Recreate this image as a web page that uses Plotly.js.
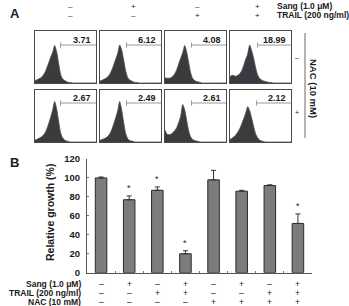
<!DOCTYPE html>
<html>
<head>
<meta charset="utf-8">
<script src="https://cdn.plot.ly/plotly-3.0.1.min.js"></script>
<style>
  html, body { margin: 0; padding: 0; background: #fff; }
  #fig { width: 349px; height: 306px; }
</style>
</head>
<body>
<div id="fig"></div>
<script>
// ---- Panel A: flow cytometry histograms (fluorescence channel bins) ----
const channels = [0,1,2,3,4,5,6,7,8,9,10,11,12,13,14,15,16,17,18,19,20,21,22,23,24,25,26,27,28,29,30,31];

const histNoNacCtrl   = [5,6,8,10,14,20,29,39,50,59,72,60,38,17,8,5,3,1,1,0,0,0,0,0,0,0,0,0,0,0,0,0];
const histNoNacSang   = [4,5,7,9,12,17,25,35,46,57,73,64,45,24,11,6,4,2,1,1,0,0,0,0,0,0,0,0,0,0,0,0];
const histNoNacTrail  = [10,9,9,10,13,18,26,37,48,58,72,60,40,20,9,5,3,2,1,0,0,0,0,0,0,0,0,0,0,0,0,0];
const histNoNacCombo  = [12,15,14,13,15,18,24,34,46,56,73,62,48,30,16,9,6,4,3,2,1,1,0,0,0,0,0,0,0,0,0,0];
const histNacCtrl     = [4,5,7,9,12,17,25,36,48,62,78,64,40,18,8,4,2,1,0,0,0,0,0,0,0,0,0,0,0,0,0,0];
const histNacSang     = [3,5,6,8,11,16,24,35,47,60,78,62,38,17,7,3,2,1,0,0,0,0,0,0,0,0,0,0,0,0,0,0];
const histNacTrail    = [23,15,14,15,18,22,28,38,50,72,62,42,22,10,5,3,2,1,0,0,0,0,0,0,0,0,0,0,0,0,0,0];
const histNacCombo    = [5,7,10,14,19,26,35,45,56,68,60,46,30,16,8,4,2,1,0,0,0,0,0,0,0,0,0,0,0,0,0,0];

const histograms = [histNoNacCtrl, histNoNacSang, histNoNacTrail, histNoNacCombo,
                    histNacCtrl, histNacSang, histNacTrail, histNacCombo];
const gatePercent = ['3.71','6.12','4.08','18.99','2.67','2.49','2.61','2.12'];
const gateStart = [13, 13.5, 13.5, 14, 13, 13.5, 13.5, 13.5];
const gateLevel = [73, 73, 73, 73, 75, 75, 75, 75];

const sangA  = ['\u2013','+','\u2013','+'];
const trailA = ['\u2013','\u2013','+','+'];
const nacA   = ['\u2013','+'];

// ---- Panel B: relative growth ----
const growth    = [100, 77, 87, 20, 98, 86, 92, 52];
const growthErr = [1, 4, 3.5, 3.2, 10, 1, 0.8, 10];
const significant = [false, true, true, true, false, false, false, true];
const yTicks = [0, 20, 40, 60, 80, 100, 120];
const sangB  = ['\u2013','+','\u2013','+','\u2013','+','\u2013','+'];
const trailB = ['\u2013','\u2013','+','+','\u2013','\u2013','+','+'];
const nacB   = ['\u2013','\u2013','\u2013','\u2013','+','+','+','+'];
const rowLabels = ['Sang (1.0 \u03bcM)', 'TRAIL (200 ng/ml)', 'NAC (10 mM)'];

// ---- helpers: pixel position -> paper fraction ----
const W = 349, H = 306;
const px = x => x / W;
const py = y => 1 - y / H;
const FONT = 'Arial, "Liberation Sans", sans-serif';
const ink = '#1a1a1a';

const traces = [];
const layout = {
  width: W, height: H,
  margin: {l: 0, r: 0, t: 0, b: 0, pad: 0},
  paper_bgcolor: '#fff', plot_bgcolor: '#fff',
  showlegend: false,
  font: {family: FONT, color: ink},
  annotations: [],
  shapes: []
};

// histogram boxes (left/right px) and rows (top/bottom px)
const colsPx = [[35, 96], [100, 161], [165, 226], [230, 291]];
const rowsPx = [[31, 83], [90, 142]];

histograms.forEach((counts, k) => {
  const r = Math.floor(k / 4), c = k % 4;
  const n = k + 2;
  const xa = 'x' + n, ya = 'y' + n;
  const boxAxis = {
    showline: true, mirror: true, linecolor: '#4a4a4a', linewidth: 1,
    showgrid: false, zeroline: false, showticklabels: false, ticks: '',
    fixedrange: true
  };
  layout['xaxis' + n] = Object.assign({}, boxAxis, {
    domain: [px(colsPx[c][0]), px(colsPx[c][1])],
    range: [0, channels[channels.length - 1]], anchor: ya
  });
  layout['yaxis' + n] = Object.assign({}, boxAxis, {
    domain: [py(rowsPx[r][1]), py(rowsPx[r][0])],
    range: [0, 100], anchor: xa
  });
  traces.push({
    type: 'scatter', mode: 'lines', x: channels, y: counts,
    xaxis: xa, yaxis: ya, fill: 'tozeroy',
    fillcolor: k === 3 ? '#3a3a44' : '#3b3b3b',
    line: {color: '#4c4c4c', width: 0.8, shape: 'spline', smoothing: 0.6}, hoverinfo: 'skip'
  });
  // gate marker
  const g = gateStart[k], lv = gateLevel[k], xEnd = channels[channels.length - 1];
  traces.push({
    type: 'scatter', mode: 'lines',
    x: [g, g, null, g, xEnd], y: [lv + 5, lv - 5, null, lv, lv],
    xaxis: xa, yaxis: ya, line: {color: '#9a9a9a', width: 1}, hoverinfo: 'skip'
  });
  layout.annotations.push({
    xref: xa, yref: ya, x: xEnd - 1.5, y: lv + 9, xanchor: 'right', yanchor: 'middle',
    text: '<b>' + gatePercent[k] + '</b>', showarrow: false,
    font: {size: 9, family: FONT, color: ink}
  });
});

// panel A header
const headerX = [70, 133, 197, 257];
headerX.forEach((x, i) => {
  layout.annotations.push({xref: 'paper', yref: 'paper', x: px(x), y: py(6.5), text: sangA[i],
    showarrow: false, xanchor: 'center', yanchor: 'middle', font: {size: 8, color: ink}});
  layout.annotations.push({xref: 'paper', yref: 'paper', x: px(x), y: py(15), text: trailA[i],
    showarrow: false, xanchor: 'center', yanchor: 'middle', font: {size: 8, color: ink}});
});
layout.annotations.push({xref: 'paper', yref: 'paper', x: px(275), y: py(5.5), text: '<b>' + rowLabels[0] + '</b>',
  showarrow: false, xanchor: 'left', yanchor: 'middle', font: {size: 8.5, color: ink}});
layout.annotations.push({xref: 'paper', yref: 'paper', x: px(275), y: py(14.5), text: '<b>' + rowLabels[1] + '</b>',
  showarrow: false, xanchor: 'left', yanchor: 'middle', font: {size: 8.5, color: ink}});

// NAC bracket on the right of panel A
layout.shapes.push({type: 'line', xref: 'paper', yref: 'paper',
  x0: px(305), x1: px(305), y0: py(33), y1: py(138), line: {color: '#6a6a6a', width: 1}});
layout.annotations.push({xref: 'paper', yref: 'paper', x: px(297), y: py(57), text: nacA[0],
  showarrow: false, xanchor: 'center', yanchor: 'middle', font: {size: 7, color: ink}});
layout.annotations.push({xref: 'paper', yref: 'paper', x: px(297), y: py(112), text: nacA[1],
  showarrow: false, xanchor: 'center', yanchor: 'middle', font: {size: 7, color: ink}});
layout.annotations.push({xref: 'paper', yref: 'paper', x: px(314), y: py(88), text: '<b>' + rowLabels[2] + '</b>',
  textangle: 90, showarrow: false, xanchor: 'center', yanchor: 'middle', font: {size: 9.5, color: ink}});

// panel letters
layout.annotations.push({xref: 'paper', yref: 'paper', x: px(15), y: py(14), text: '<b>A</b>',
  showarrow: false, xanchor: 'center', yanchor: 'middle', font: {size: 13, color: ink}});
layout.annotations.push({xref: 'paper', yref: 'paper', x: px(14), y: py(162), text: '<b>B</b>',
  showarrow: false, xanchor: 'center', yanchor: 'middle', font: {size: 13, color: ink}});

// ---- Panel B bar chart ----
const idx = growth.map((_, i) => i);
traces.push({
  type: 'bar', x: idx, y: growth, xaxis: 'x', yaxis: 'y', width: 0.41,
  marker: {color: '#7c7c7c', line: {color: '#2a2a2a', width: 1}},
  error_y: {type: 'data', symmetric: false, array: growthErr, arrayminus: growth.map(() => 0),
    color: '#333', thickness: 1, width: 2.5},
  hoverinfo: 'skip'
});
layout.xaxis = {
  domain: [px(87), px(312)], range: [-0.5, growth.length - 0.5], anchor: 'y',
  showline: true, linecolor: '#555', linewidth: 1, showgrid: false, zeroline: false,
  tickmode: 'array', tickvals: idx.map(i => i + 0.5), showticklabels: false,
  ticks: 'inside', ticklen: 2, tickcolor: '#777', fixedrange: true
};
layout.yaxis = {
  domain: [py(272.7), py(159)], range: [0, 120], anchor: 'x',
  showline: true, linecolor: '#555', linewidth: 1, showgrid: false, zeroline: false,
  tickmode: 'array', tickvals: yTicks, ticktext: yTicks.map(v => '<b>' + v + '</b>'),
  ticks: 'inside', ticklen: 2, tickcolor: '#777', ticklabelstandoff: 4,
  tickfont: {size: 9.5, family: FONT, color: ink}, fixedrange: true
};
layout.annotations.push({xref: 'paper', yref: 'paper', x: px(50), y: py(213),
  text: '<b>Relative growth (%)</b>', textangle: -90, showarrow: false,
  xanchor: 'center', yanchor: 'middle', font: {size: 10.5, color: ink}});

significant.forEach((s, i) => {
  if (!s) return;
  layout.annotations.push({xref: 'x', yref: 'y', x: i, y: growth[i] + growthErr[i], yshift: 1,
    text: '*', showarrow: false, xanchor: 'center', yanchor: 'bottom', font: {size: 9, color: ink}});
});

// treatment table under the bars
const tableRows = [sangB, trailB, nacB];
const tableY = [284, 293, 301.5];
tableRows.forEach((row, r) => {
  layout.annotations.push({xref: 'paper', yref: 'paper', x: px(83), y: py(tableY[r]),
    text: '<b>' + rowLabels[r] + '</b>', showarrow: false, xanchor: 'right', yanchor: 'middle',
    font: {size: 8.5, color: ink}});
  row.forEach((sym, i) => {
    layout.annotations.push({xref: 'x', yref: 'paper', x: i, y: py(tableY[r]), text: sym,
      showarrow: false, xanchor: 'center', yanchor: 'middle', font: {size: 8.5, color: ink}});
  });
});

Plotly.newPlot('fig', traces, layout, {staticPlot: true, displayModeBar: false});
</script>
</body>
</html>
